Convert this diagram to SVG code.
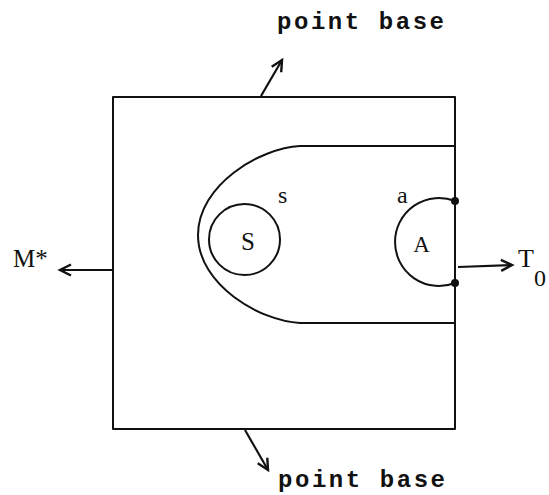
<svg xmlns="http://www.w3.org/2000/svg" width="549" height="495" viewBox="0 0 549 495">
<style>
.ln{fill:none;stroke:#111;stroke-width:2;stroke-linecap:round;stroke-linejoin:round}
.arr{fill:none;stroke:#111;stroke-width:2.2;marker-end:url(#ah)}
.tw{font-family:"Liberation Mono","DejaVu Sans Mono",monospace;font-weight:bold;font-size:24px;fill:#111}
.sf{font-family:"Liberation Serif","DejaVu Serif",serif;fill:#111}
</style>
<defs>
<marker id="ah" markerUnits="userSpaceOnUse" markerWidth="16" markerHeight="14" refX="13" refY="7" orient="auto">
<path d="M2,1.5 L13,7 L2,12.5" fill="none" stroke="#111" stroke-width="2.4" stroke-linejoin="miter"/>
</marker>
</defs>
<rect width="549" height="495" fill="#fff"/>
<g id="box">
<path class="ln" d="M113,97 L455,97 L455,429 L113,429 Z"/>
</g>
<g id="region-s">
<path class="ln" d="M455,146 L300,146 C260,148 198,185 198,235 C198,285 260,321 300,323 L455,323"/>
<text class="sf" x="278" y="203" font-size="24">s</text>
</g>
<g id="node-S">
<circle class="ln" cx="244.5" cy="239.5" r="35.5" stroke-width="2.4"/>
<text class="sf" x="248" y="250" font-size="25" text-anchor="middle">S</text>
</g>
<g id="node-A">
<path class="ln" d="M455,201 A44,44 0 1 0 455,283" stroke-width="2.4"/>
<circle cx="455" cy="201" r="4" fill="#111"/>
<circle cx="455" cy="283" r="4" fill="#111"/>
<text class="sf" x="397" y="203" font-size="24">a</text>
<text class="sf" x="421.5" y="252" font-size="23" text-anchor="middle">A</text>
</g>
<g id="label-top">
<text class="tw" x="277" y="29" textLength="167" lengthAdjust="spacing">point base</text>
</g>
<g id="label-bottom">
<text class="tw" x="278" y="487" textLength="167" lengthAdjust="spacing">point base</text>
</g>
<g id="label-M">
<text class="sf" x="13" y="267" font-size="25">M*</text>
</g>
<g id="label-T">
<text class="sf" x="518" y="267" font-size="26">T<tspan font-size="24" dy="19">0</tspan></text>
</g>
<g id="connectors">
<path class="arr" d="M261,96 L282,60"/>
<path class="arr" d="M245,430 L268,470"/>
<path class="arr" d="M112,270 L60,270"/>
<path class="arr" d="M458,267 L512,265"/>
</g>
</svg>
